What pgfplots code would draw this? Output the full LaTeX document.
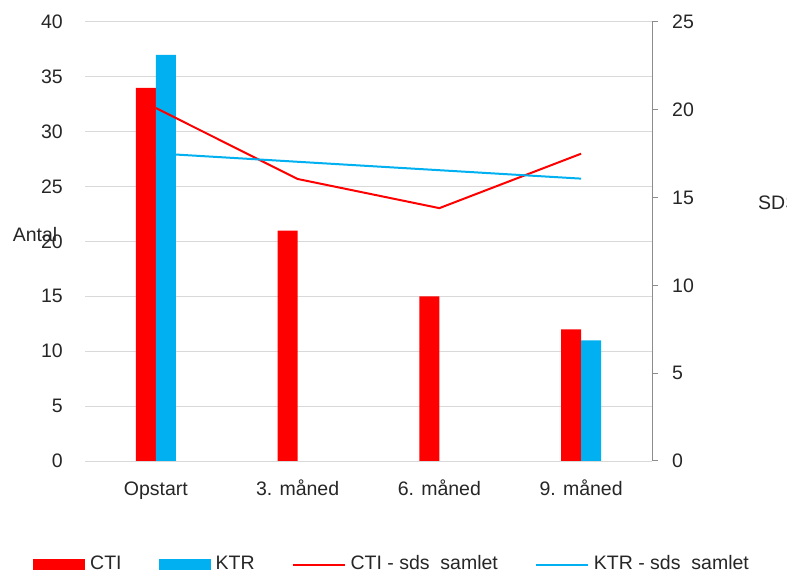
\documentclass[border=0pt]{standalone}
\usepackage{fontspec}
\setmainfont{Liberation Sans}
\usepackage{pgfplots}
\pgfplotsset{compat=1.18}

\definecolor{ctired}{HTML}{FF0000}
\definecolor{ktrblue}{HTML}{00B0F0}
\definecolor{gridgray}{HTML}{D9D9D9}
\definecolor{axisgray}{HTML}{8C8C8C}
\definecolor{textgray}{HTML}{262626}

\pgfplotsset{
  chartbase/.style={
    at={(85bp,112bp)}, anchor=south west,
    scale only axis, width=567bp, height=439bp,
    xmin=-0.5, xmax=3.5,
    font=\fontsize{19.5bp}{23bp}\selectfont,
    /pgf/number format/assume math mode=true,
    tick label style={text=textgray},
    label style={text=textgray},
  },
  barlegend/.style={legend image code/.code={\fill[##1] (0bp,-5.5bp) rectangle (52bp,5.5bp);}},
  linelegend/.style={legend image code/.code={\draw[##1] (0bp,0bp) -- (52bp,0bp);}},
}

\begin{document}
\begin{tikzpicture}
\useasboundingbox (0bp,0bp) rectangle (787bp,573bp);

% counts (left axis)
\begin{axis}[chartbase,
  ybar=0pt, bar width=20bp,
  ymin=0, ymax=40, ytick={0,5,...,40},
  xtick={0,1,2,3},
  xticklabels={Opstart, 3. måned, 6. måned, 9. måned},
  axis line style={draw=none},
  major tick length=0pt,
  ymajorgrids, grid style={gridgray, line width=1bp},
  yticklabel style={anchor=east, inner sep=0pt, xshift=-22bp},
  xticklabel style={anchor=base, inner sep=0pt, yshift=-34bp},
  ylabel={Antal},
  ylabel style={rotate=-90, at={(axis description cs:-0.088,0.517)}, anchor=center},
  legend columns=4,
  legend cell align=left,
  legend style={at={(axis description cs:-0.0917,-0.2369)}, anchor=west,
    draw=none, fill=none, inner sep=0pt, text=textgray,
    nodes={text height=14bp, text depth=4bp},
    /tikz/every odd column/.append style={column sep=3bp},
    /tikz/every even column/.append style={column sep=35bp}},
]
\addplot[fill=ctired, draw=none, barlegend] coordinates {(0,34) (1,21) (2,15) (3,12)};
\addlegendentry{CTI}
\addplot[fill=ktrblue, draw=none, barlegend] coordinates {(0,37) (3,11)};
\addlegendentry{KTR}
\addlegendimage{linelegend, ctired, line width=2bp}
\addlegendentry{CTI - sds~ samlet}
\addlegendimage{linelegend, ktrblue, line width=2bp}
\addlegendentry{KTR - sds~ samlet}
\end{axis}

% SDS (right axis)
\begin{axis}[chartbase,
  axis x line=none, axis y line*=right,
  ymin=0, ymax=25, ytick={0,5,...,25},
  y axis line style={axisgray, line width=1bp},
  ytick style={axisgray, line width=1bp},
  tick align=outside, major tick length=6bp,
  yticklabel style={anchor=west, inner sep=0pt, xshift=14bp},
  ylabel={SDS},
  ylabel style={rotate=-90, inner sep=0pt, at={(axis description cs:1.187,0.588)}, anchor=west},
]
\addplot[ctired, line width=2bp, line join=round] coordinates {(0,20.1) (1,16.06) (2,14.4) (3,17.5)};
\addplot[ktrblue, line width=2bp, line join=round] coordinates {(0,17.52) (3,16.08)};
\end{axis}
\end{tikzpicture}
\end{document}
